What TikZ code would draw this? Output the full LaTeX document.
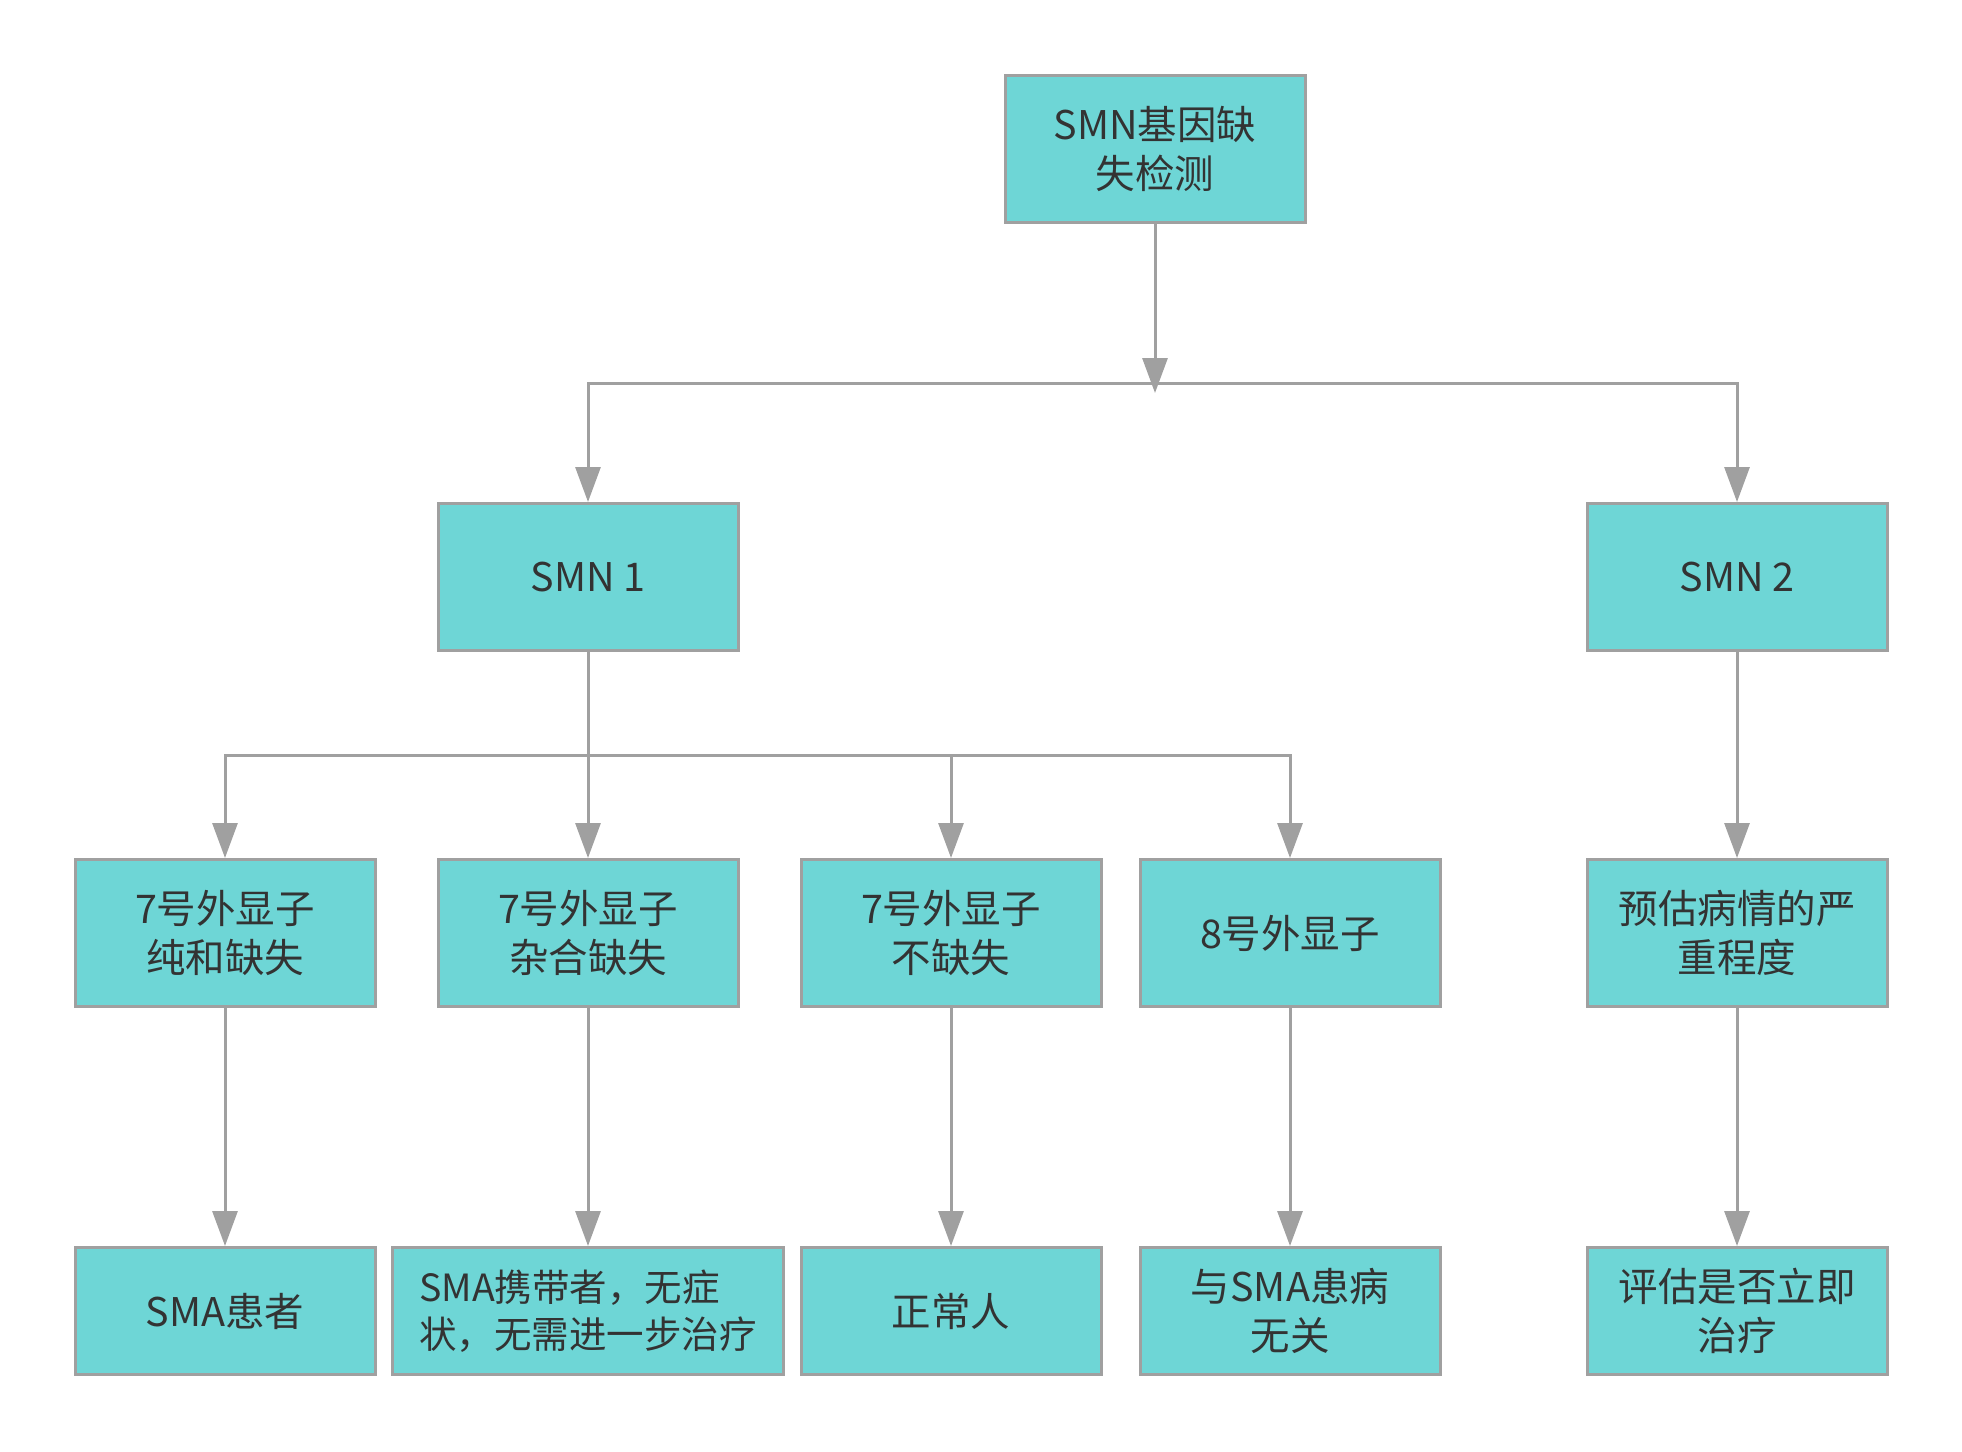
\documentclass[tikz,border=0pt]{standalone}
\usepackage{fontspec}
\newfontfamily\cjk{Noto Sans CJK SC}
\usetikzlibrary{arrows.meta}
\definecolor{smnteal}{RGB}{110,214,214}
\definecolor{smngray}{RGB}{160,160,160}
\definecolor{smntext}{RGB}{51,51,51}

\begin{document}
\begin{tikzpicture}[x=1pt,y=-1pt,
  box/.style={draw=smngray,line width=3pt,fill=smnteal,text=smntext,
    minimum width=300pt,minimum height=147pt,inner sep=0pt,align=center,
    font=\cjk\fontsize{39.5}{49}\selectfont},
  lowbox/.style={box,minimum height=127pt},
  link/.style={draw=smngray,line width=3pt},
  arr/.style={link,-{Triangle[length=35pt,width=25pt]}}]
  \useasboundingbox (0,0) rectangle (1962,1451);
  % top level
  \node[box] (root) at (1155,149) {SMN基因缺\\失检测};
  \node[box] (smn1) at (588,577) {SMN 1};
  \node[box] (smn2) at (1737,577) {SMN 2};
  % exon results
  \node[box] (e7a) at (225,933) {7号外显子\\纯和缺失};
  \node[box] (e7b) at (588,933) {7号外显子\\杂合缺失};
  \node[box] (e7c) at (951,933) {7号外显子\\不缺失};
  \node[box] (e8) at (1290,933) {8号外显子};
  \node[box] (sev) at (1737,933) {预估病情的严\\重程度};
  % conclusions
  \node[lowbox] (pat) at (225,1311) {SMA患者};
  \node[lowbox,minimum width=391pt,align=left,font=\cjk\fontsize{37.5}{47}\selectfont] (car) at (588,1311) {SMA携带者，无症\\状，无需进一步治疗};
  \node[lowbox] (nor) at (951,1311) {正常人};
  \node[lowbox] (irr) at (1290,1311) {与SMA患病\\无关};
  \node[lowbox] (tre) at (1737,1311) {评估是否立即\\治疗};
  % connectors
  \coordinate (j1) at (1155,383);
  \coordinate (j2) at (588,755);
  \draw[arr,shorten >=-10pt] (root) -- (j1);
  \draw[arr] (j1) -| (smn1);
  \draw[arr] (j1) -| (smn2);
  \draw[link] (smn1) -- (j2);
  \foreach \n in {e7a,e7b,e7c,e8}
    \draw[arr] (j2) -| (\n);
  \draw[arr] (smn2) -- (sev);
  \foreach \a/\b in {e7a/pat,e7b/car,e7c/nor,e8/irr,sev/tre}
    \draw[arr] (\a) -- (\b);
\end{tikzpicture}
\end{document}
